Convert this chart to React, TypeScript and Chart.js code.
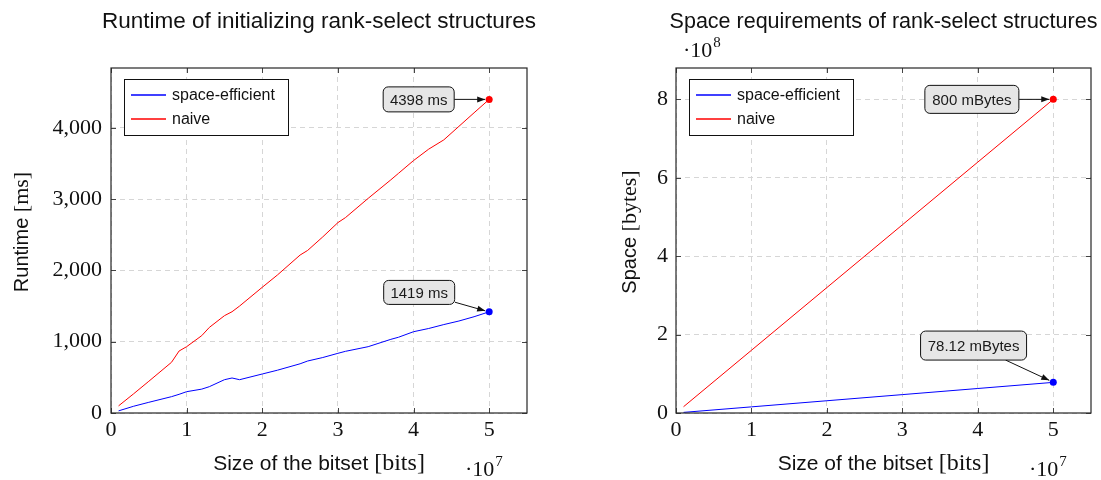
import React, { useEffect, useRef } from "react";
import { Chart, registerables } from "chart.js";

Chart.register(...registerables);

const SANS = "'Liberation Sans', Arial, sans-serif";
const SERIF = "'Liberation Serif', 'Times New Roman', serif";

// ---- Runtime chart data ----
const runtimeBits = [
  1e6, 3e6, 5e6, 8e6, 9e6, 1e7, 1.2e7, 1.3e7, 1.5e7, 1.6e7, 1.7e7, 2e7, 2.2e7, 2.5e7,
  2.6e7, 2.8e7, 3e7, 3.1e7, 3.4e7, 3.7e7, 3.8e7, 4e7, 4.2e7, 4.4e7, 4.6e7, 4.8e7, 5e7,
];
const runtimeSpaceEfficient = [
  30, 95, 150, 229, 262, 299, 335, 369, 467, 491, 467, 547, 600, 690, 729, 778, 837, 865,
  930, 1033, 1062, 1140, 1185, 1240, 1290, 1350, 1419,
];
const runtimeNaive = [
  100, 270, 445, 711, 869, 930, 1085, 1200, 1365, 1420, 1500, 1763, 1935, 2215, 2280, 2470,
  2670, 2740, 3010, 3270, 3360, 3540, 3700, 3830, 4020, 4210, 4398,
];

// ---- Space chart data ----
const spaceBits = [1e6, 1e7, 2e7, 3e7, 4e7, 5e7];
const spaceSpaceEfficient = [1562500, 15625000, 31250000, 46875000, 62500000, 78125000];
const spaceNaive = [16e6, 160e6, 320e6, 480e6, 640e6, 800e6];

// ---- Ticks ----
const xTicks = [0, 1e7, 2e7, 3e7, 4e7, 5e7];
const runtimeYTicks = [0, 1000, 2000, 3000, 4000];
const spaceYTicks = [0, 2e8, 4e8, 6e8, 8e8];

const seriesLabels = ["space-efficient", "naive"];
const seriesColors = ["#0000ff", "#ff0000"];

const runtimeTitle = "Runtime of initializing rank-select structures";
const spaceTitle = "Space requirements of rank-select structures";

type Annot = {
  ds: number;
  text: string;
  cx: number;
  cy: number;
  w: number;
  h: number;
  ax: number;
  ay: number;
  bx: number;
  by: number;
};

type Decor = {
  title: string;
  titleSize: number;
  yLabelSans: string;
  yLabelSerif: string;
  yLabelOffset: number;
  xExp: string;
  yExp?: string;
  annots: Annot[];
};

function roundRect(ctx: CanvasRenderingContext2D, x: number, y: number, w: number, h: number, r: number) {
  ctx.beginPath();
  ctx.moveTo(x + r, y);
  ctx.lineTo(x + w - r, y);
  ctx.arcTo(x + w, y, x + w, y + r, r);
  ctx.lineTo(x + w, y + h - r);
  ctx.arcTo(x + w, y + h, x + w - r, y + h, r);
  ctx.lineTo(x + r, y + h);
  ctx.arcTo(x, y + h, x, y + h - r, r);
  ctx.lineTo(x, y + r);
  ctx.arcTo(x, y, x + r, y, r);
  ctx.closePath();
}

function drawExp(ctx: CanvasRenderingContext2D, x: number, baseline: number, exp: string) {
  ctx.save();
  ctx.fillStyle = "#111";
  ctx.textAlign = "left";
  ctx.textBaseline = "alphabetic";
  ctx.font = `22px ${SERIF}`;
  ctx.fillText("\u00b710", x, baseline);
  const w = ctx.measureText("\u00b710").width;
  ctx.font = `15px ${SERIF}`;
  ctx.fillText(exp, x + w + 1, baseline - 10);
  ctx.restore();
}

function makeDecor(d: Decor) {
  return {
    id: "decor",
    afterDraw(chart: any) {
      const ctx: CanvasRenderingContext2D = chart.ctx;
      const a = chart.chartArea;
      const xs = chart.scales.x;
      const ys = chart.scales.y;
      ctx.save();

      // tick marks inside on all four sides
      ctx.strokeStyle = "#444";
      ctx.lineWidth = 1;
      ctx.beginPath();
      xs.ticks.forEach((t: any) => {
        const px = Math.round(xs.getPixelForValue(t.value)) + 0.5;
        ctx.moveTo(px, a.bottom);
        ctx.lineTo(px, a.bottom - 5);
        ctx.moveTo(px, a.top);
        ctx.lineTo(px, a.top + 5);
      });
      ys.ticks.forEach((t: any) => {
        const py = Math.round(ys.getPixelForValue(t.value)) + 0.5;
        ctx.moveTo(a.left, py);
        ctx.lineTo(a.left + 5, py);
        ctx.moveTo(a.right, py);
        ctx.lineTo(a.right - 5, py);
      });
      ctx.stroke();

      // frame
      ctx.strokeStyle = "#262626";
      ctx.lineWidth = 1.2;
      ctx.strokeRect(a.left, a.top, a.right - a.left, a.bottom - a.top);

      // legend
      const lx = a.left + 13;
      const ly = a.top + 11;
      ctx.fillStyle = "#fff";
      ctx.fillRect(lx, ly, 164, 56);
      ctx.strokeStyle = "#111";
      ctx.lineWidth = 1;
      ctx.strokeRect(lx + 0.5, ly + 0.5, 164, 56);
      ctx.font = `16px ${SANS}`;
      ctx.textBaseline = "middle";
      ctx.textAlign = "left";
      seriesLabels.forEach((lab, i) => {
        const yy = ly + 16 + i * 24;
        ctx.strokeStyle = seriesColors[i];
        ctx.lineWidth = 1.5;
        ctx.beginPath();
        ctx.moveTo(lx + 7, yy);
        ctx.lineTo(lx + 42, yy);
        ctx.stroke();
        ctx.fillStyle = "#111";
        ctx.fillText(lab, lx + 48, yy + 1);
      });

      // annotations
      d.annots.forEach((an) => {
        const meta = chart.getDatasetMeta(an.ds);
        const el = meta.data[meta.data.length - 1];
        const px = el.x;
        const py = el.y;
        const x1 = px + an.ax, y1 = py + an.ay, x2 = px + an.bx, y2 = py + an.by;
        ctx.strokeStyle = "#111";
        ctx.fillStyle = "#111";
        ctx.lineWidth = 1;
        ctx.beginPath();
        ctx.moveTo(x1, y1);
        ctx.lineTo(x2, y2);
        ctx.stroke();
        const ang = Math.atan2(y2 - y1, x2 - x1);
        ctx.beginPath();
        ctx.moveTo(x2, y2);
        ctx.lineTo(x2 - 8 * Math.cos(ang) + 3 * Math.sin(ang), y2 - 8 * Math.sin(ang) - 3 * Math.cos(ang));
        ctx.lineTo(x2 - 8 * Math.cos(ang) - 3 * Math.sin(ang), y2 - 8 * Math.sin(ang) + 3 * Math.cos(ang));
        ctx.closePath();
        ctx.fill();
        const bx = px + an.cx - an.w / 2;
        const by = py + an.cy - an.h / 2;
        roundRect(ctx, bx, by, an.w, an.h, 5);
        ctx.fillStyle = "#e6e6e6";
        ctx.fill();
        ctx.strokeStyle = "#111";
        ctx.stroke();
        ctx.fillStyle = "#1a1a1a";
        ctx.font = `15px ${SANS}`;
        ctx.textAlign = "center";
        ctx.textBaseline = "middle";
        ctx.fillText(an.text, px + an.cx, py + an.cy + 1);
      });

      // title
      const cxa = (a.left + a.right) / 2;
      ctx.fillStyle = "#111";
      ctx.textAlign = "center";
      ctx.textBaseline = "alphabetic";
      ctx.font = `${d.titleSize}px ${SANS}`;
      ctx.fillText(d.title, cxa, 28);

      // x label (mixed fonts)
      const sansPart = "Size of the bitset ";
      const serifPart = "[bits]";
      ctx.font = `21px ${SANS}`;
      const w1 = ctx.measureText(sansPart).width;
      ctx.font = `24px ${SERIF}`;
      const w2 = ctx.measureText(serifPart).width;
      const sx = cxa - (w1 + w2) / 2;
      ctx.textAlign = "left";
      ctx.font = `21px ${SANS}`;
      ctx.fillText(sansPart, sx, 470);
      ctx.font = `24px ${SERIF}`;
      ctx.fillText(serifPart, sx + w1, 470);

      // y label rotated
      ctx.save();
      ctx.translate(a.left + d.yLabelOffset, 232);
      ctx.rotate(-Math.PI / 2);
      ctx.font = `20px ${SANS}`;
      const v1 = ctx.measureText(d.yLabelSans).width;
      ctx.font = `22px ${SERIF}`;
      const v2 = ctx.measureText(d.yLabelSerif).width;
      const vx = -(v1 + v2) / 2;
      ctx.textBaseline = "middle";
      ctx.textAlign = "left";
      ctx.font = `20px ${SANS}`;
      ctx.fillText(d.yLabelSans, vx, 0);
      ctx.font = `22px ${SERIF}`;
      ctx.fillText(d.yLabelSerif, vx + v1, 0);
      ctx.restore();

      // exponents
      drawExp(ctx, a.right - 62, 476, d.xExp);
      if (d.yExp) drawExp(ctx, a.left + 7, 57, d.yExp);

      ctx.restore();
    },
  };
}

function buildConfig(
  bits: number[],
  effVals: number[],
  naiveVals: number[],
  yMax: number,
  yTicks: number[],
  yFmt: (v: number) => string,
  yWidth: number,
  rightPad: number,
  yPad: number,
  decor: Decor
): any {
  const mk = (vals: number[], i: number) => ({
    label: seriesLabels[i],
    data: vals.map((v, k) => ({ x: bits[k], y: v })),
    borderColor: seriesColors[i],
    backgroundColor: seriesColors[i],
    borderWidth: 1,
    tension: 0,
    pointRadius: vals.map((_, k) => (k === vals.length - 1 ? 3.5 : 0)),
    pointBorderWidth: 0,
    pointBackgroundColor: seriesColors[i],
  });
  const gridColor = "#d6d6d6";
  return {
    type: "line",
    data: { datasets: [mk(naiveVals, 1), mk(effVals, 0)] },
    options: {
      animation: false,
      responsive: false,
      events: [],
      layout: { padding: { left: 0, right: rightPad, top: 68, bottom: 0 } },
      plugins: { legend: { display: false }, title: { display: false }, tooltip: { enabled: false } },
      scales: {
        x: {
          type: "linear",
          min: 0,
          max: 5.5e7,
          afterFit: (s: any) => {
            s.height = 67;
          },
          afterBuildTicks: (s: any) => {
            s.ticks = xTicks.map((v) => ({ value: v }));
          },
          ticks: {
            maxRotation: 0,
            autoSkip: false,
            padding: 4,
            color: "#111",
            font: { family: SERIF, size: 22 },
            callback: (v: any) => String(Math.round(Number(v) / 1e7)),
          },
          grid: { color: gridColor, lineWidth: 1, drawTicks: false },
          border: { display: false, dash: [5, 4] },
        },
        y: {
          type: "linear",
          min: 0,
          max: yMax,
          afterFit: (s: any) => {
            s.width = yWidth;
          },
          afterBuildTicks: (s: any) => {
            s.ticks = yTicks.map((v) => ({ value: v }));
          },
          ticks: {
            autoSkip: false,
            padding: yPad,
            color: "#111",
            font: { family: SERIF, size: 22 },
            callback: (v: any) => yFmt(Number(v)),
          },
          grid: { color: gridColor, lineWidth: 1, drawTicks: false },
          border: { display: false, dash: [5, 4] },
        },
      },
    },
    plugins: [makeDecor(decor)],
  };
}

function ChartCanvas({ config, width, left }: { config: () => any; width: number; left: number }) {
  const ref = useRef<HTMLCanvasElement | null>(null);
  useEffect(() => {
    if (!ref.current) return;
    const chart = new Chart(ref.current, config());
    return () => chart.destroy();
  }, []);
  return (
    <canvas
      ref={ref}
      width={width}
      height={480}
      style={{ position: "absolute", left, top: 0, width, height: 480 }}
    />
  );
}

export default function App() {
  const leftCfg = () =>
    buildConfig(
      runtimeBits,
      runtimeSpaceEfficient,
      runtimeNaive,
      4838,
      runtimeYTicks,
      (v) => v.toLocaleString("en-US"),
      111,
      33,
      9,
      {
        title: runtimeTitle,
        titleSize: 22.5,
        yLabelSans: "Runtime ",
        yLabelSerif: "[ms]",
        yLabelOffset: -89,
        xExp: "7",
        annots: [
          { ds: 0, text: "4398 ms", cx: -70.5, cy: 0, w: 71, h: 25, ax: -35, ay: 0, bx: -4, by: 0 },
          { ds: 1, text: "1419 ms", cx: -70, cy: -19.4, w: 71, h: 24, ax: -34.3, ay: -9.6, bx: -4, by: -1 },
        ],
      }
    );
  const rightCfg = () =>
    buildConfig(
      spaceBits,
      spaceSpaceEfficient,
      spaceNaive,
      8.8e8,
      spaceYTicks,
      (v) => String(Math.round(v / 1e8)),
      116,
      10,
      8,
      {
        title: spaceTitle,
        titleSize: 21.5,
        yLabelSans: "Space ",
        yLabelSerif: "[bytes]",
        yLabelOffset: -46,
        xExp: "7",
        yExp: "8",
        annots: [
          { ds: 0, text: "800 mBytes", cx: -81.4, cy: 0, w: 94, h: 28, ax: -34.4, ay: 0, bx: -4, by: 0 },
          { ds: 1, text: "78.12 mBytes", cx: -79.7, cy: -36.8, w: 106, h: 29, ax: -47.7, ay: -22.3, bx: -4, by: -2 },
        ],
      }
    );
  return (
    <div style={{ position: "absolute", left: 0, top: 0, width: 1101, height: 480, background: "#fff" }}>
      <ChartCanvas config={leftCfg} width={560} left={0} />
      <ChartCanvas config={rightCfg} width={541} left={560} />
    </div>
  );
}
